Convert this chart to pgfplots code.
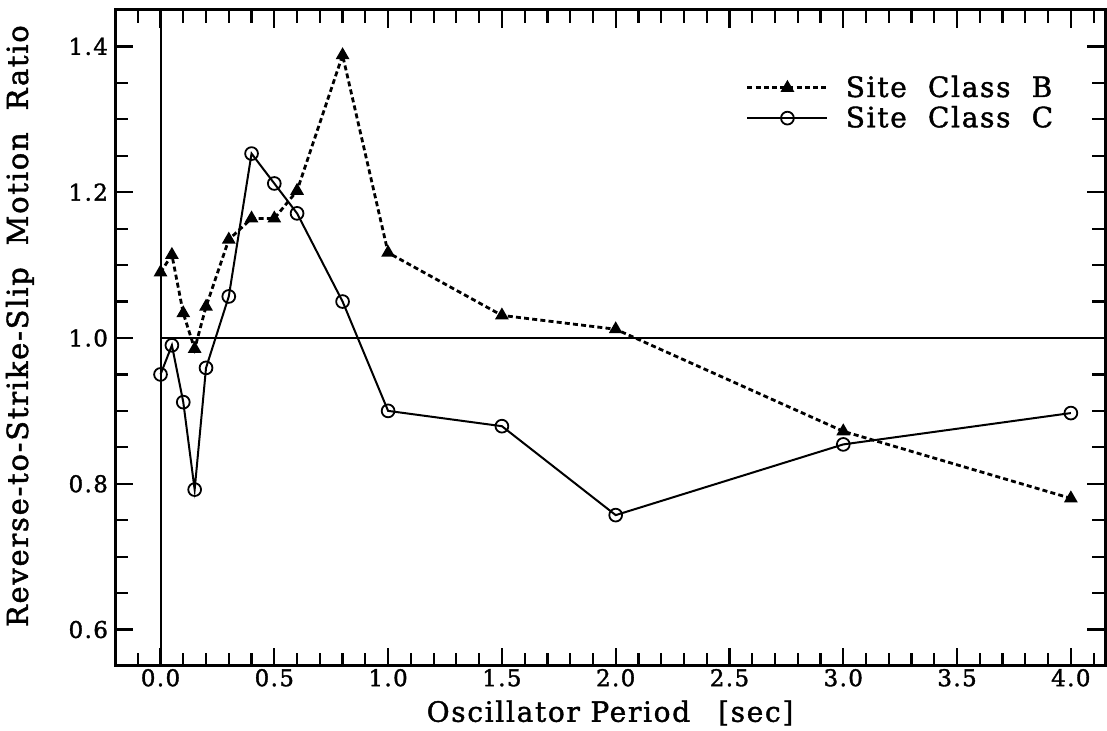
\documentclass[border=0pt]{standalone}
\usepackage{fontspec}
\setmainfont{DejaVu Serif}[LetterSpace=6, FakeBold=1.5]
\usepackage{pgfplots}
\usepackage{pgfplotstable}
\pgfplotsset{compat=1.18}

% Ratio of reverse to strike-slip ground motion versus oscillator period
\pgfplotstableread{
T     B      C
0.00  1.090  0.950
0.05  1.114  0.990
0.10  1.034  0.912
0.15  0.985  0.792
0.20  1.043  0.959
0.30  1.135  1.057
0.40  1.164  1.253
0.50  1.164  1.212
0.60  1.202  1.171
0.80  1.388  1.050
1.00  1.117  0.900
1.50  1.031  0.879
2.00  1.012  0.757
3.00  0.872  0.854
4.00  0.780  0.897
}\ratios

\begin{document}
\begin{tikzpicture}
\useasboundingbox (-57.5pt,-32.5pt) rectangle (496pt,333pt);
\begin{axis}[
  at={(0,0)}, anchor=south west,
  width=495pt, height=328pt, scale only axis,
  xmin=-0.2, xmax=4.15, ymin=0.55, ymax=1.45,
  xtick={0,0.5,1,1.5,2,2.5,3,3.5,4},
  minor xtick={-0.1,0.1,0.2,0.3,0.4,0.6,0.7,0.8,0.9,1.1,1.2,1.3,1.4,1.6,1.7,1.8,1.9,2.1,2.2,2.3,2.4,2.6,2.7,2.8,2.9,3.1,3.2,3.3,3.4,3.6,3.7,3.8,3.9,4.1},
  ytick={0.6,0.8,1.0,1.2,1.4},
  minor ytick={0.65,0.7,0.75,0.85,0.9,0.95,1.05,1.1,1.15,1.25,1.3,1.35},
  xticklabel={\pgfmathprintnumber[fixed,fixed zerofill,precision=1,assume math mode=true]{\tick}},
  yticklabel={\pgfmathprintnumber[fixed,fixed zerofill,precision=1,assume math mode=true]{\tick}},
  tick align=inside,
  major tick length=9pt, minor tick length=6.5pt,
  every tick/.style={black, line width=1.1pt},
  axis line style={line width=1.5pt},
  ticklabel style={font=\fontsize{11.5}{12}\selectfont},
  xticklabel style={yshift=2pt},
  xlabel={Oscillator\ Period\quad[sec]},
  ylabel={Reverse-to-Strike-Slip\ \ Motion\ \ Ratio},
  xlabel style={font=\fontsize{14}{14}\selectfont,
    at={(axis description cs:0.5,-0.0716)}, anchor=center},
  ylabel style={font=\fontsize{14.5}{14.5}\selectfont,
    at={(axis description cs:-0.096,0.518)}, anchor=center},
  legend style={draw=none, fill=none, at={(axis description cs:0.637,0.905)},
    anchor=north west, font=\fontsize{14}{14}\selectfont, row sep=0pt,
    inner sep=0pt, nodes={inner sep=1.5pt}},
  legend cell align=left,
  legend image code/.code={
    \draw[mark repeat=2,mark phase=2,#1] plot coordinates {(0pt,0pt) (20pt,0pt) (40pt,0pt)};
    \path (47pt,0pt);
  },
]
% reference lines at zero period and unit ratio
\addplot[line width=1pt, forget plot] coordinates {(0,0.55) (0,1.45)};
\addplot[line width=1pt, forget plot] coordinates {(0,1) (4.15,1)};

\addplot[line width=1.4pt, dash pattern=on 2.5pt off 1.6pt,
  mark=triangle*, mark size=2.6pt, mark options={solid, fill=black}]
  table[x=T, y=B] {\ratios};
\addlegendentry{Site\ \ Class\ \ B}

\addplot[line width=1pt, mark=o, mark size=3.2pt,
  mark options={solid, line width=0.9pt}]
  table[x=T, y=C] {\ratios};
\addlegendentry{Site\ \ Class\ \ C}
\end{axis}
\end{tikzpicture}
\end{document}
